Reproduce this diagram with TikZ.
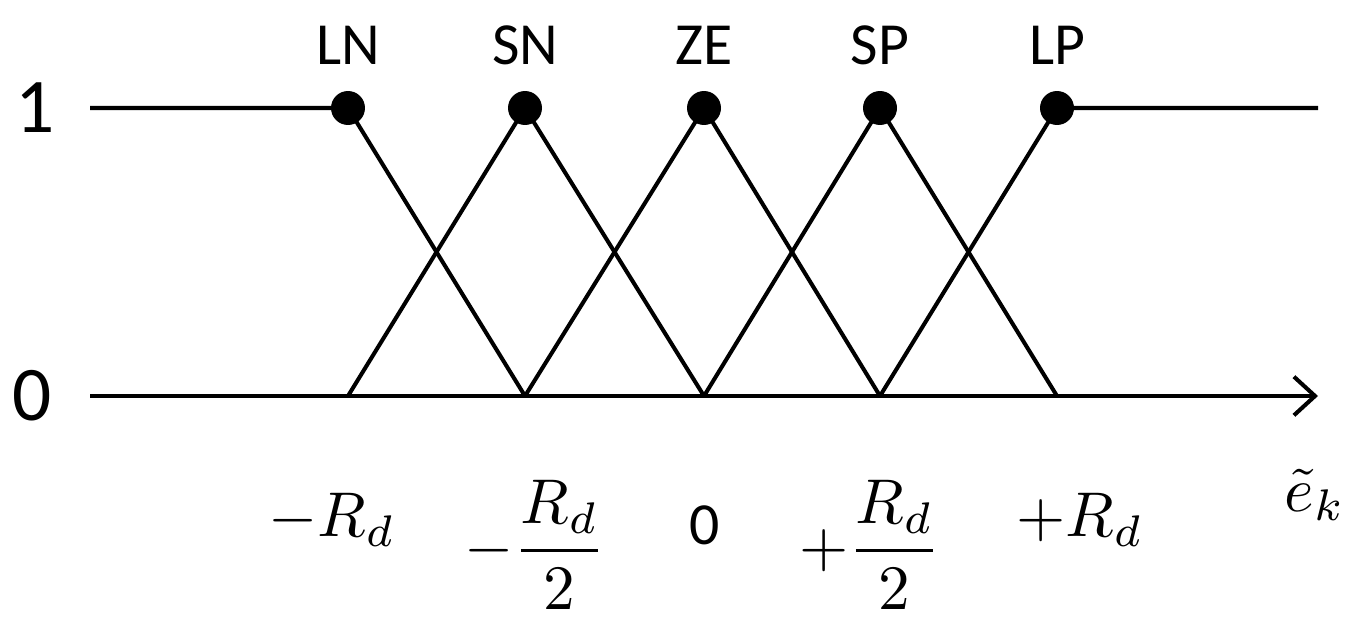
\documentclass[tikz,border=0pt]{standalone}
\usepackage{amsmath}
\usepackage{graphicx}
\usepackage{fontspec}
\setmainfont{Carlito}
\usetikzlibrary{arrows.meta}
\begin{document}
\begin{tikzpicture}[x=0.02cm,y=-0.02cm,
  ln/.style={line width=2.3pt},
  dot/.style={circle,fill=black,inner sep=0pt,minimum size=0.68cm},
  lab/.style={font=\fontsize{34}{40}\selectfont},
  big/.style={font=\fontsize{44}{50}\selectfont}]
\useasboundingbox (0,0) rectangle (1367,636);
\foreach \n/\x in {a/348,b/525,c/704,d/880,e/1057}{
  \coordinate (t\n) at (\x,108);
  \coordinate (b\n) at (\x,396);
}
\coordinate (l1) at (90,108); \coordinate (r1) at (1318,108);
\coordinate (l0) at (90,396); \coordinate (r0) at (1318,396);
\draw[ln] (l1) -- (ta) -- (bb);
\draw[ln] (ba) -- (tb) -- (bc);
\draw[ln] (bb) -- (tc) -- (bd);
\draw[ln] (bc) -- (td) -- (be);
\draw[ln] (bd) -- (te) -- (r1);
\draw[ln,-{Straight Barb[length=12pt,width=22pt]}] (l0) -- (r0);
\foreach \n in {a,b,c,d,e} \node[dot] at (t\n) {};
\node[lab] (LN) at (348,45) {LN};
\node[lab] (SN) at (525,45) {SN};
\node[lab] (ZE) at (704,45) {ZE};
\node[lab] (SP) at (880,45) {SP};
\node[lab] (LP) at (1057,45) {LP};
\node[big] (one) at (35,108) {1};
\node[big] (zero) at (32,396) {0};
\node (m1) at (332,520) {\scalebox{3.6}{$-R_d$}};
\node (m2) at (535,545) {\scalebox{3.6}{$-\dfrac{R_d}{2}$}};
\node[lab] (m3) at (705,525) {0};
\node (m4) at (870,545) {\scalebox{3.6}{$+\dfrac{R_d}{2}$}};
\node (m5) at (1080,520) {\scalebox{3.6}{$+R_d$}};
\node (ek) at (1315,495) {\scalebox{3.6}{$\tilde{e}_k$}};
\end{tikzpicture}
\end{document}
